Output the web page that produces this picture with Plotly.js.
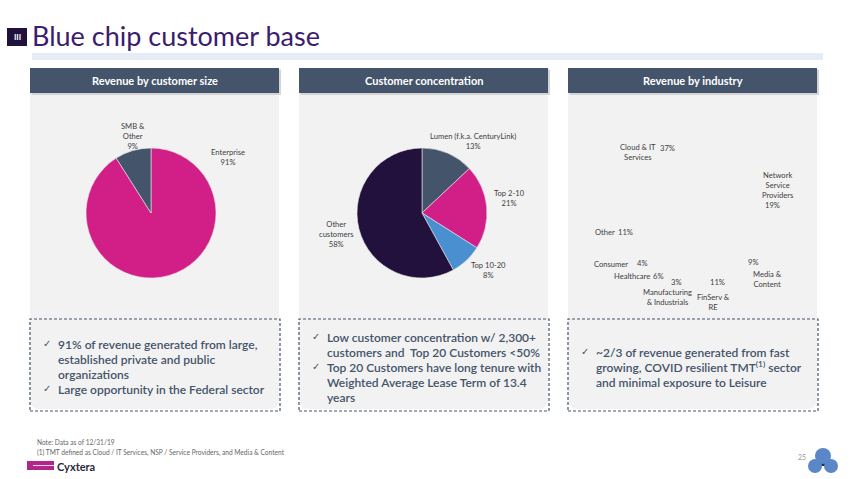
<!DOCTYPE html>
<html><head><meta charset="utf-8">
<script src="https://cdn.plot.ly/plotly-3.0.1.min.js"></script>
<style>html,body{margin:0;padding:0;background:#fff;}#chart{width:850px;height:479px;}</style>
</head><body><div id="chart"></div>
<script>
// ---- data ----
const sizeLabels = ['Enterprise', 'SMB &<br>Other'];
const sizeValues = [91, 9];
const sizeColors = ['#d21f88', '#44546a'];

const concLabels = ['Lumen (f.k.a. CenturyLink)', 'Top 2-10', 'Top 10-20', 'Other<br>customers'];
const concValues = [13, 21, 8, 58];
const concColors = ['#44546a', '#d21f88', '#4a8fd0', '#22103d'];

const indLabels = ['Cloud & IT<br>Services', 'Network<br>Service<br>Providers', 'Media &<br>Content', 'FinServ &<br>RE', 'Manufacturing<br>& Industrials', 'Healthcare', 'Consumer', 'Other'];
const indValues = [37, 19, 9, 11, 3, 6, 4, 11];

const panelTitles = ['Revenue by customer size', 'Customer concentration', 'Revenue by industry'];
const bullets = [
  [['91% of revenue generated from large,', 'established private and public', 'organizations'], ['Large opportunity in the Federal sector']],
  [['Low customer concentration w/ 2,300+', 'customers and  Top 20 Customers <50%'], ['Top 20 Customers have long tenure with', 'Weighted Average Lease Term of 13.4', 'years']],
  [['~2/3 of revenue generated from fast', 'growing, COVID resilient TMT<sup>(1)</sup> sector', 'and minimal exposure to Leisure']]
];
const footNotes = ['Note: Data as of 12/31/19', '(1) TMT defined as Cloud / IT Services, NSP / Service Providers, and Media & Content'];

// ---- label placement (pixel positions, kept apart from the data) ----
const sizeLabelPos = [[228, 157], [133, 136]];
const concLabelPos = [[473, 141], [509, 197.5], [488, 269.5], [336, 234]];
const indLabelPos = [[638, 151.5], [777, 185], [767, 279], [713, 301.5], [667, 296.5], [632, 276], [611, 264], [605, 232]];
const indPctPos = [[667, 148], [772, 205], [753, 262], [717, 282], [676, 282], [658, 275.5], [642, 263], [625, 232]];

// ---- helpers ----
const W = 850, H = 479;
const FONT = 'Lato, "Open Sans", sans-serif';
const px = x => x / W, py = y => 1 - y / H;
function dom(cx, cy, r) { return {x: [px(cx - r), px(cx + r)], y: [py(cy + r), py(cy - r)]}; }

const traces = [
  {type: 'pie', labels: sizeLabels, values: sizeValues, textinfo: 'none', sort: false, direction: 'clockwise', rotation: 0,
   domain: dom(151, 213, 65), marker: {colors: sizeColors, line: {color: '#e8e8e8', width: 0.6}}, hoverinfo: 'none'},
  {type: 'pie', labels: concLabels, values: concValues, textinfo: 'none', sort: false, direction: 'clockwise', rotation: 0,
   domain: dom(422, 213, 65), marker: {colors: concColors, line: {color: '#e8e8e8', width: 0.6}}, hoverinfo: 'none'},
  {type: 'pie', labels: indLabels, values: indValues, textinfo: 'none', sort: false, direction: 'clockwise', rotation: -96,
   domain: dom(693, 220, 60), marker: {colors: indValues.map(() => 'rgba(0,0,0,0)'), line: {width: 0}}, hoverinfo: 'none'}
];

const shapes = [];
const ann = [];
function rect(x0, y0, x1, y1, fill, line) {
  shapes.push({type: 'rect', xref: 'paper', yref: 'paper', x0: px(x0), x1: px(x1), y0: py(y1), y1: py(y0),
    fillcolor: fill, line: line || {width: 0}, layer: 'below'});
}
function roundedBottom(x0, y0, x1, y1, r, fill) {
  const P = (x, y) => px(x) + ',' + py(y);
  shapes.push({type: 'path', xref: 'paper', yref: 'paper', fillcolor: fill, line: {width: 0}, layer: 'below',
    path: 'M' + P(x0, y0) + ' L' + P(x1, y0) + ' L' + P(x1, y1 - r) + ' Q' + P(x1, y1) + ' ' + P(x1 - r, y1) +
      ' L' + P(x0 + r, y1) + ' Q' + P(x0, y1) + ' ' + P(x0, y1 - r) + ' Z'});
}
function text(x, y, t, size, color, opts) {
  ann.push(Object.assign({xref: 'paper', yref: 'paper', x: px(x), y: py(y), text: t, showarrow: false,
    xanchor: 'left', yanchor: 'middle', font: {family: FONT, size: size, color: color}}, opts || {}));
}
const LBL = 7.6, LBLC = '#404040';
function dataLabel(pos, t) { text(pos[0], pos[1], t, LBL, LBLC, {xanchor: 'center', align: 'center'}); }

sizeLabels.forEach((l, i) => dataLabel(sizeLabelPos[i], l + '<br>' + sizeValues[i] + '%'));
concLabels.forEach((l, i) => dataLabel(concLabelPos[i], l + '<br>' + concValues[i] + '%'));
indLabels.forEach((l, i) => { dataLabel(indLabelPos[i], l); dataLabel(indPctPos[i], indValues[i] + '%'); });

// title area
rect(7, 28, 27, 46, '#22103d');
text(17, 37, '<b>III</b>', 8, '#ffffff', {xanchor: 'center'});
text(30, 36, 'Blue chip customer base', 27, '#3b1c6e');
rect(32, 53, 823, 60, '#e5ecf4');

// panels
const panelX = [30, 299, 568];
const panelW = 249;
panelX.forEach((x0, k) => {
  roundedBottom(x0, 93, x0 + panelW, 409, 10, '#f2f2f2');
  rect(x0 + 1.5, 69.5, x0 + panelW + 2, 95, '#d4d4d4');
  rect(x0, 68, x0 + panelW, 93, '#44546a');
  text(x0 + panelW / 2, 80.5, '<b>' + panelTitles[k] + '</b>', 11, '#ffffff', {xanchor: 'center'});
  shapes.push({type: 'rect', xref: 'paper', yref: 'paper', x0: px(x0), x1: px(x0 + panelW + 1), y0: py(411), y1: py(319),
    fillcolor: 'rgba(0,0,0,0)', line: {color: '#44546a', width: 1.2, dash: '3px,2px'}, layer: 'above'});
});

// bullets
const bulletStartY = [344, 337, 352];
const lineGap = 15;
bullets.forEach((group, k) => {
  let y = bulletStartY[k];
  const x0 = panelX[k];
  group.forEach(lines => {
    text(x0 + 11, y - 1, '✓', 9.5, '#44546a');
    lines.forEach(l => { text(x0 + 26, y, l, 12, '#44546a', {font: {family: FONT, size: 12, color: '#44546a', weight: 600}}); y += lineGap; });
  });
});

// footer
text(35, 442, footNotes[0], 6.6, '#666666');
text(35, 452, footNotes[1], 6.6, '#666666');
rect(27, 461, 54, 470, '#b0268b');
shapes.push({type: 'line', xref: 'paper', yref: 'paper', x0: px(33), x1: px(54), y0: py(465.5), y1: py(465.5), line: {color: '#ffffff', width: 0.8}});
text(55, 466, '<b>Cyxtera</b>', 11, '#2a2a3a');
text(796, 457, '25', 7, '#9a9a9a');
[[823, 456, 8], [815, 466, 7], [831, 466, 7]].forEach(c => {
  shapes.push({type: 'circle', xref: 'paper', yref: 'paper', x0: px(c[0] - c[2]), x1: px(c[0] + c[2]), y0: py(c[1] + c[2]), y1: py(c[1] - c[2]),
    fillcolor: '#5b86c7', line: {width: 0}});
});
rect(819, 459, 827, 466, '#1f2c5c');

Plotly.newPlot('chart', traces, {
  width: W, height: H, margin: {l: 0, r: 0, t: 0, b: 0}, paper_bgcolor: '#ffffff', plot_bgcolor: '#ffffff',
  showlegend: false, shapes: shapes, annotations: ann, font: {family: FONT}
}, {staticPlot: true});
</script></body></html>
